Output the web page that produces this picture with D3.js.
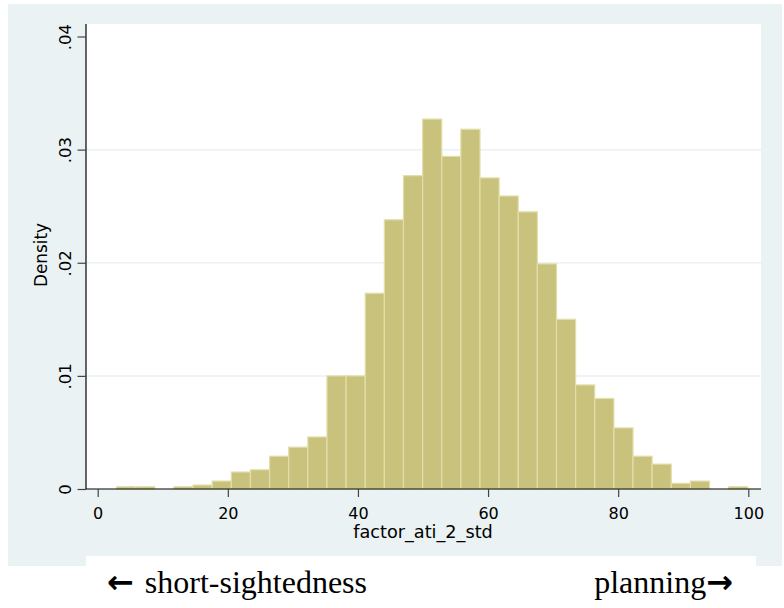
<!DOCTYPE html>
<html>
<head>
<meta charset="utf-8">
<script src="https://cdn.jsdelivr.net/npm/d3@7"></script>
<style>
  body { margin: 0; background: #ffffff; }
  svg { display: block; }
</style>
</head>
<body>
<div id="chart"></div>
<script>
// Histogram data: 33 bins starting at 2.9, width 2.94
const binStart = 2.9;
const binWidth = 2.94;
const densities = [
  0.0002, 0.0002, 0, 0.0002, 0.00035, 0.0007, 0.0015, 0.0017, 0.0029, 0.0037,
  0.0046, 0.0100, 0.0100, 0.0173, 0.0238, 0.0277, 0.0327, 0.0294, 0.0318, 0.0275,
  0.0259, 0.0245, 0.0199, 0.0150, 0.0092, 0.0080, 0.0054, 0.0029, 0.0022, 0.0005,
  0.0007, 0, 0.0002
];
const xTicks = [0, 20, 40, 60, 80, 100];
const yTicks = [0, 0.01, 0.02, 0.03, 0.04];
const yTickLabels = ["0", ".01", ".02", ".03", ".04"];
const gridTicks = [0.01, 0.02, 0.03];

const width = 784, height = 608;
const plot = { left: 86, right: 761, top: 24, bottom: 489 };
const sans = "DejaVu Sans, Verdana, sans-serif";
const serif = "Liberation Serif, Times New Roman, serif";

const bins = densities.map((d, i) => ({
  x0: binStart + i * binWidth,
  x1: binStart + (i + 1) * binWidth,
  density: d
}));

const svg = d3.select("#chart")
  .append("svg")
  .attr("width", width)
  .attr("height", height);

// Stata style outer background
svg.append("rect")
  .attr("x", 8).attr("y", 4)
  .attr("width", 774).attr("height", 562)
  .attr("fill", "#eaf2f3");

// white plot region
svg.append("rect")
  .attr("x", plot.left).attr("y", plot.top)
  .attr("width", plot.right - plot.left)
  .attr("height", plot.bottom - plot.top)
  .attr("fill", "#ffffff");

// white note box under the graph
svg.append("rect")
  .attr("x", 86).attr("y", 556)
  .attr("width", 670).attr("height", 52)
  .attr("fill", "#ffffff");

let x = d3.scaleLinear()
  .domain([0, 100])
  .range([97.7, 748.3]);

let y = d3.scaleLinear()
  .domain([0, 0.04])
  .range([plot.bottom, 36.5]);

// gridlines
svg.append("g")
  .selectAll("line")
  .data(gridTicks)
  .enter()
  .append("line")
  .attr("x1", plot.left)
  .attr("x2", plot.right)
  .attr("y1", d => y(d))
  .attr("y2", d => y(d))
  .attr("stroke", "#eaf2f3")
  .attr("stroke-width", 1.5);

// bars
svg.append("g")
  .selectAll("rect")
  .data(bins.filter(b => b.density > 0))
  .enter()
  .append("rect")
  .attr("x", d => x(d.x0))
  .attr("y", d => y(d.density))
  .attr("width", d => x(d.x1) - x(d.x0))
  .attr("height", d => y(0) - y(d.density))
  .attr("fill", "#c9c27d")
  .attr("stroke", "#e2deaa")
  .attr("stroke-width", 1.2);

// y axis
let yAxis = svg.append("g")
  .attr("transform", `translate(${plot.left},0)`)
  .call(d3.axisLeft(y).tickValues(yTicks).tickSize(8.5).tickPadding(0)
    .tickFormat((d, i) => yTickLabels[i]));
yAxis.select(".domain")
  .attr("d", `M0,${plot.top}V${plot.bottom}`)
  .attr("stroke", "#000")
  .attr("stroke-width", 1.2);
yAxis.selectAll(".tick line").attr("stroke", "#444").attr("stroke-width", 1.2);
yAxis.selectAll(".tick text")
  .attr("x", 0).attr("dy", null)
  .attr("transform", "translate(-15,0) rotate(-90)")
  .style("text-anchor", "middle")
  .style("font-family", sans)
  .style("font-size", "16.5px")
  .attr("fill", "#000");

// x axis
let xAxis = svg.append("g")
  .attr("transform", `translate(0,${plot.bottom})`)
  .call(d3.axisBottom(x).tickValues(xTicks).tickSize(8));
xAxis.select(".domain")
  .attr("d", `M${plot.left},0H${plot.right}`)
  .attr("stroke", "#000")
  .attr("stroke-width", 1.2);
xAxis.selectAll(".tick line").attr("stroke", "#444").attr("stroke-width", 1.2);
xAxis.selectAll(".tick text")
  .attr("y", 30).attr("dy", null)
  .style("font-family", sans)
  .style("font-size", "16px")
  .attr("fill", "#000");

// axis titles
svg.append("text")
  .attr("x", 423).attr("y", 537.5)
  .style("text-anchor", "middle")
  .style("font-family", sans)
  .style("font-size", "17.7px")
  .text("factor_ati_2_std");

svg.append("text")
  .attr("transform", "translate(47,255) rotate(-90)")
  .style("text-anchor", "middle")
  .style("font-family", sans)
  .style("font-size", "16.8px")
  .text("Density");

// note below
let leftNote = svg.append("text")
  .attr("x", 107).attr("y", 593)
  .style("font-family", serif)
  .style("font-size", "32px");
leftNote.append("tspan")
  .style("font-family", sans)
  .style("font-weight", "bold")
  .text("\u2190");
leftNote.append("tspan").attr("dx", 3).text(" short-sightedness");

let rightNote = svg.append("text")
  .attr("x", 733).attr("y", 593)
  .style("text-anchor", "end")
  .style("font-family", serif)
  .style("font-size", "32px");
rightNote.append("tspan").text("planning");
rightNote.append("tspan")
  .style("font-family", sans)
  .style("font-weight", "bold")
  .text("\u2192");
</script>
</body>
</html>
